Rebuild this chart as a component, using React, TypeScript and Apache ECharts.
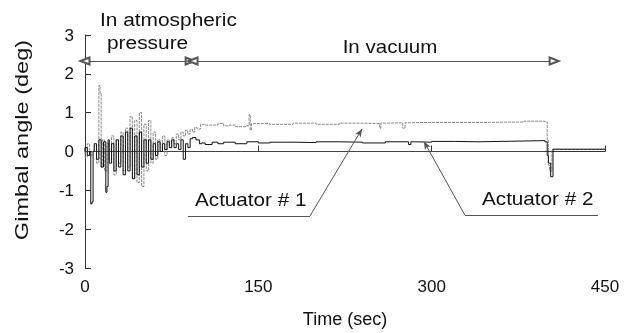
import React, { useEffect, useRef } from "react";
import * as echarts from "echarts";

// Time (sec) and gimbal angle (deg)
const act1Data: [number, number][] = [
  [0, 0.1], [2, -0.15], [4, 0.2], [6, -0.1], [8, 0.0], [10, 0.15], [12, -0.3], [13, 1.7], [14, 1.5],
  [15, -0.4], [17, 0.3], [19, -0.5], [21, 0.2], [23, -0.2], [25, 0.4], [27, -0.6], [29, 0.3],
  [31, -0.3], [33, 0.5], [35, -0.5], [37, 0.6], [39, -0.4], [41, 0.9], [43, -0.7], [45, 0.8],
  [47, -0.8], [49, 1.0], [51, -0.9], [53, 0.7], [55, -0.5], [57, 0.8], [59, -0.3], [61, 0.5],
  [63, -0.2], [65, 0.3], [67, 0.0], [69, 0.4], [71, -0.1], [73, 0.3], [75, 0.1], [77, 0.35],
  [79, 0.2], [81, 0.45], [83, 0.3], [85, 0.5], [87, 0.4], [89, 0.55], [91, 0.45], [93, 0.57],
  [95, 0.5], [97, 0.62], [100, 0.58], [103, 0.7], [115, 0.68], [120, 0.72], [125, 0.66],
  [130, 0.68], [140, 0.64], [142, 0.66], [143, 0.95], [144, 0.55], [146, 0.72], [160, 0.72],
  [180, 0.7], [200, 0.73], [220, 0.7], [240, 0.73], [255, 0.72], [256, 0.6], [257, 0.73],
  [275, 0.74], [277, 0.6], [279, 0.74], [300, 0.75], [350, 0.75], [380, 0.76], [398, 0.78],
  [400, 0.76], [401, 0.3], [402, -0.35], [404, -0.5], [406, 0.05], [450, 0.05],
];

const act2Data: [number, number][] = [
  [0, 0.0], [2, 0.1], [4, -0.1], [5, 0.0], [6, -1.35], [7, -1.3], [8, 0.0], [10, 0.2], [12, -0.2],
  [14, 0.3], [16, -0.4], [18, 0.25], [19, -1.05], [20, -0.9], [21, 0.3], [23, -0.3], [25, 0.2],
  [27, -0.5], [29, 0.3], [31, -0.4], [33, 0.4], [35, -0.6], [37, 0.5], [39, -0.5], [41, 0.6],
  [43, -0.7], [45, 0.4], [47, -0.6], [49, 0.5], [51, -0.4], [53, 0.3], [55, -0.3], [57, 0.3],
  [59, -0.2], [61, 0.2], [63, -0.1], [65, 0.25], [67, 0.0], [69, 0.2], [71, 0.05], [73, 0.25],
  [75, 0.1], [77, 0.3], [79, 0.1], [81, 0.2], [83, 0.05], [85, 0.3], [87, -0.2], [89, 0.2],
  [91, 0.1], [93, 0.33], [96, 0.36], [99, 0.3], [101, 0.2], [104, 0.22], [110, 0.18], [115, 0.24],
  [120, 0.2], [130, 0.24], [140, 0.2], [150, 0.25], [160, 0.22], [180, 0.24], [200, 0.23],
  [220, 0.25], [240, 0.24], [260, 0.22], [280, 0.25], [282, 0.18], [284, 0.25], [300, 0.24],
  [320, 0.26], [340, 0.25], [360, 0.26], [380, 0.27], [398, 0.28], [400, 0.25], [401, -0.1],
  [403, -0.3], [405, -0.65], [406, 0.06], [450, 0.06],
];

const zeroLine: [number, number][] = [[0, 0], [400, 0]];

const xTicks = { min: 0, max: 450, interval: 150 };
const yTicks = { min: -3, max: 3, interval: 1 };

// annotation anchors (data coords)
const phaseY = 2.33;
const atmosRange = [0, 91];
const vacuumRange = [93.5, 406];
const act1Leader: [number, number][] = [[89, -1.66], [194.7, -1.66], [239.7, 0.58]];
const act2Leader: [number, number][] = [[443.9, -1.64], [328.8, -1.64], [293.3, 0.26]];

const FONT = "'Liberation Sans', Arial, Helvetica, sans-serif";

export default function App() {
  const ref = useRef<HTMLDivElement>(null);
  useEffect(() => {
    if (!ref.current) return;
    const chart = echarts.init(ref.current, undefined, { renderer: "svg" });
    const axisCommon = {
      axisLine: { show: true, lineStyle: { color: "#333", width: 1 } },
      axisTick: { show: true, inside: true, length: 6, lineStyle: { color: "#333" } },
      splitLine: { show: false },
      axisLabel: { fontSize: 17, color: "#111", fontFamily: FONT },
    };
    const leader = (pts: [number, number][]) => [
      [
        { coord: pts[0], symbol: "none" },
        { coord: pts[1], symbol: "none" },
      ],
      [
        { coord: pts[1], symbol: "none" },
        { coord: pts[2], symbol: "arrow", symbolSize: [5, 8] },
      ],
    ];
    chart.setOption({
      animation: false,
      grid: { left: 85, right: 24, top: 35, bottom: 65 },
      xAxis: {
        type: "value",
        ...xTicks,
        ...axisCommon,
        axisLabel: { ...axisCommon.axisLabel, margin: 10 },
        name: "Time (sec)",
        nameLocation: "middle",
        nameGap: 42,
        nameTextStyle: { fontSize: 18, color: "#111", fontFamily: FONT },
      },
      yAxis: {
        type: "value",
        ...yTicks,
        ...axisCommon,
        axisLabel: { ...axisCommon.axisLabel, margin: 11 },
      },
      series: [
        {
          name: "zero",
          type: "line",
          data: zeroLine,
          symbol: "none",
          lineStyle: { color: "#444", width: 1 },
          silent: true,
        },
        {
          name: "Actuator # 1",
          type: "line",
          step: "start",
          data: act1Data,
          symbol: "none",
          lineStyle: { color: "#888", width: 1, type: [3, 1] },
          markLine: {
            silent: true,
            symbol: ["none", "none"],
            label: { show: false },
            lineStyle: { color: "#555", width: 1, type: "solid" },
            data: [
              [
                { coord: [atmosRange[0], phaseY], symbol: "emptyTriangle", symbolSize: [7, 9] },
                { coord: [atmosRange[1], phaseY], symbol: "emptyTriangle", symbolSize: [7, 9] },
              ],
              [
                { coord: [vacuumRange[0], phaseY], symbol: "emptyTriangle", symbolSize: [7, 9] },
                { coord: [vacuumRange[1], phaseY], symbol: "emptyTriangle", symbolSize: [7, 9] },
              ],
              ...leader(act1Leader),
              ...leader(act2Leader),
            ],
          },
        },
        {
          name: "Actuator # 2",
          type: "line",
          step: "start",
          data: act2Data,
          symbol: "none",
          lineStyle: { color: "#111", width: 1 },
        },
      ],
      graphic: [
        {
          type: "text",
          x: 22,
          y: 140,
          rotation: Math.PI / 2,
          scaleX: 1.24,
          style: {
            text: "Gimbal angle (deg)",
            font: `19px ${FONT}`,
            fill: "#111",
            align: "center",
            verticalAlign: "middle",
          },
        },
        {
          type: "text",
          x: 100,
          y: 20,
          scaleX: 1.16,
          style: { text: "In atmospheric", font: `18px ${FONT}`, fill: "#111", verticalAlign: "middle" },
        },
        {
          type: "text",
          x: 107,
          y: 43,
          scaleX: 1.16,
          style: { text: "pressure", font: `18px ${FONT}`, fill: "#111", verticalAlign: "middle" },
        },
        {
          type: "text",
          x: 390,
          y: 47,
          scaleX: 1.14,
          style: { text: "In vacuum", font: `18px ${FONT}`, fill: "#111", align: "center", verticalAlign: "middle" },
        },
        {
          type: "text",
          x: 195,
          y: 200,
          scaleX: 1.15,
          style: { text: "Actuator # 1", font: `18px ${FONT}`, fill: "#111", verticalAlign: "middle" },
        },
        {
          type: "text",
          x: 482,
          y: 199,
          scaleX: 1.15,
          style: { text: "Actuator # 2", font: `18px ${FONT}`, fill: "#111", verticalAlign: "middle" },
        },
      ],
    });
    return () => chart.dispose();
  }, []);
  return (
    <div
      ref={ref}
      style={{ position: "fixed", left: 0, top: 0, width: 629, height: 333 }}
    />
  );
}
